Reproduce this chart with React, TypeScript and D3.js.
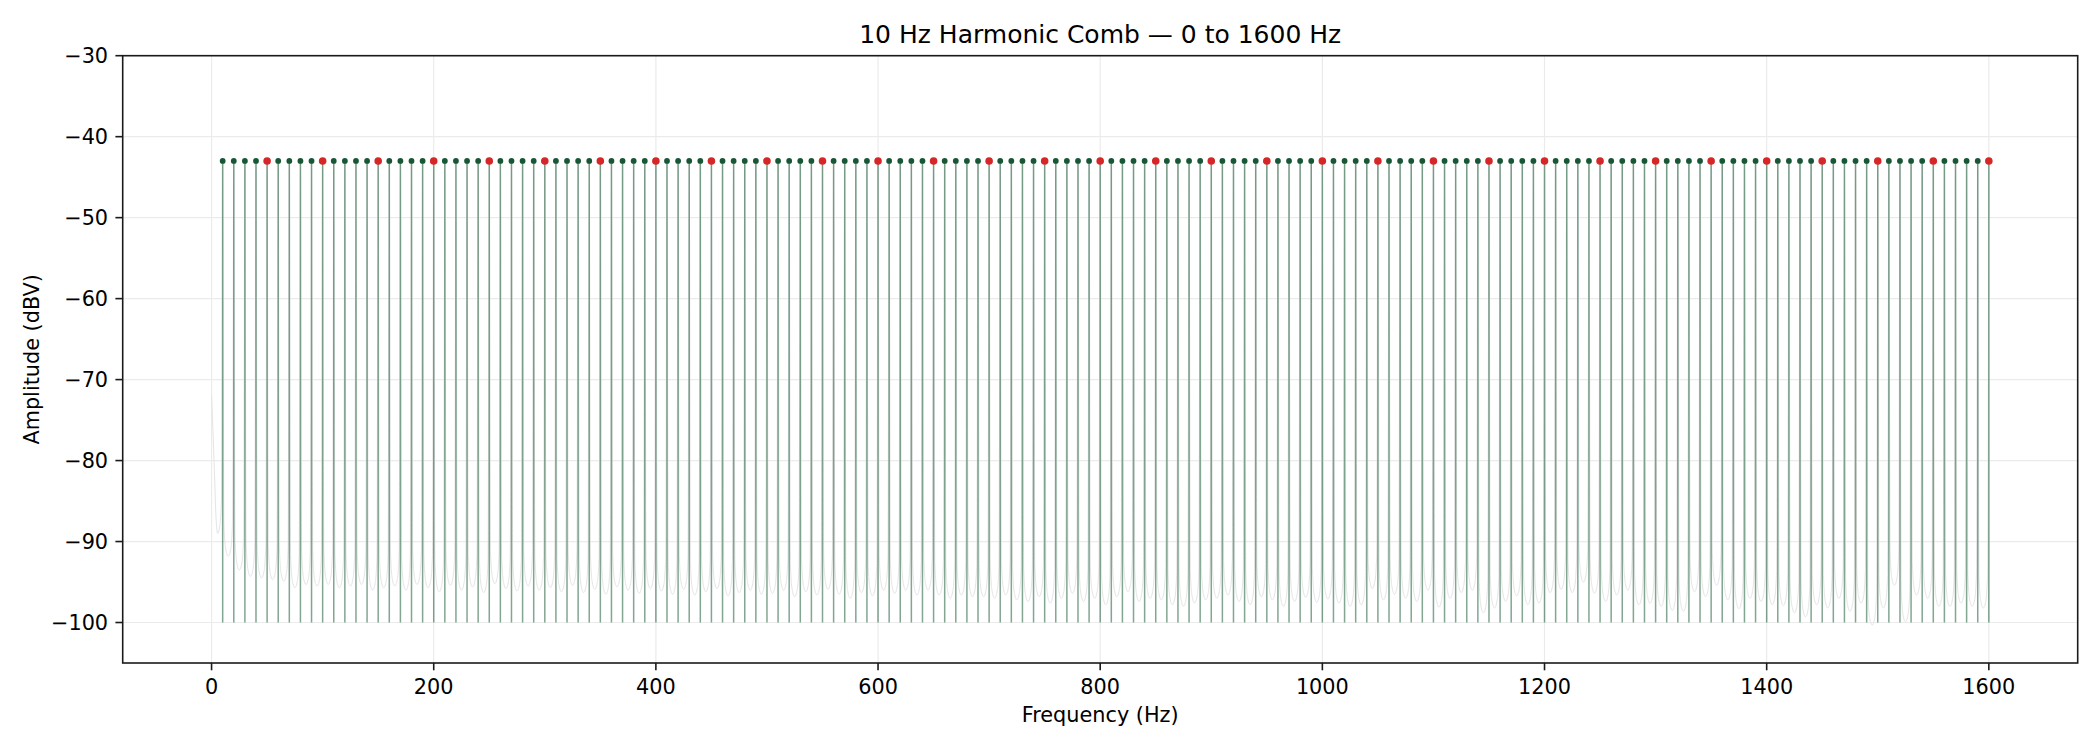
import React, { useRef, useEffect } from 'react';
import * as d3 from 'd3';

// harmonic comb: 10 Hz fundamental, 160 harmonics up to 1600 Hz
const fundamentalHz = 10;
const harmonicCount = 160;
const harmonicLevel = -43; // dBV at every harmonic peak
const stemFloor = -100; // stems start here
const highlightHz = 50; // every 50 Hz harmonic drawn in red

// faint FFT trace: DC value, then lowest point between each pair of harmonics (0-10, 10-20, ... 1590-1600 Hz)
const dcLevel = -72;
const noiseDips = [
  -89.0, -91.8, -93.5, -94.3, -94.5, -94.7, -94.9, -95.7, -95.3, -95.5,
  -95.3, -95.7, -95.5, -95.3, -96.0, -95.7, -95.5, -96.0, -95.3, -95.7,
  -96.2, -95.4, -96.0, -95.6, -96.3, -95.2, -95.8, -96.1, -95.5, -96.0,
  -95.7, -96.2, -95.4, -96.3, -95.9, -96.5, -95.6, -96.0, -96.4, -95.8,
  -96.1, -96.5, -95.9, -96.6, -96.2, -95.8, -96.7, -96.3, -96.0, -96.5,
  -96.4, -96.0, -96.8, -96.2, -96.6, -95.9, -96.5, -97.0, -96.3, -96.7,
  -96.0, -96.4, -96.0, -96.6, -96.0, -96.6, -97.0, -96.6, -96.8, -96.8,
  -97.0, -96.6, -97.2, -97.4, -96.8, -97.6, -97.0, -96.4, -97.4, -97.0,
  -97.8, -96.8, -96.2, -97.4, -97.0, -97.2, -97.8, -98.0, -97.6, -97.2,
  -97.0, -96.6, -97.4, -97.8, -96.8, -97.2, -98.0, -97.4, -96.9, -97.5,
  -97.1, -97.6, -98.0, -97.8, -95.8, -97.2, -96.5, -97.0, -97.4, -96.0,
  -98.1, -97.0, -96.3, -96.0, -98.8, -98.2, -97.4, -96.7, -97.8, -97.6,
  -96.3, -95.9, -96.3, -95.0, -96.4, -97.4, -96.6, -96.0, -97.8, -97.6,
  -98.0, -98.5, -98.6, -96.2, -96.8, -95.4, -97.2, -98.3, -97.0, -97.4,
  -97.8, -97.9, -98.8, -99.3, -97.8, -98.2, -97.0, -98.6, -97.6, -100.3,
  -98.2, -95.4, -99.9, -96.6, -97.0, -98.0, -98.0, -97.6, -98.0, -98.2,
];

const xTicks = [0, 200, 400, 600, 800, 1000, 1200, 1400, 1600];
const yTicks = [-100, -90, -80, -70, -60, -50, -40, -30];

const App = () => {
  const ref = useRef<SVGSVGElement>(null);

  useEffect(() => {
    document.body.style.margin = '0';
    document.body.style.overflow = 'hidden';

    const width = 2100;
    const height = 750;
    const left = 122.7;
    const right = 2077.7;
    const top = 55.7;
    const bottom = 663;
    const font = 'DejaVu Sans, sans-serif';

    const x = d3.scaleLinear().domain([-80, 1680]).range([left, right]);
    const y = d3.scaleLinear().domain([-105, -30]).range([bottom, top]);

    const svg = d3.select(ref.current);
    svg.selectAll('*').remove();
    svg.attr('width', width).attr('height', height);

    svg.append('rect').attr('width', width).attr('height', height).attr('fill', '#fff');

    // grid
    const grid = svg.append('g').attr('stroke', '#ebebeb').attr('stroke-width', 1.2);
    grid.selectAll('line.gx').data(xTicks).join('line')
      .attr('x1', d => x(d)).attr('x2', d => x(d)).attr('y1', top).attr('y2', bottom);
    grid.selectAll('line.gy').data(yTicks).join('line')
      .attr('x1', left).attr('x2', right).attr('y1', d => y(d)).attr('y2', d => y(d));

    const harmonics = Array.from({ length: harmonicCount }, (_, i) => ({
      f: (i + 1) * fundamentalHz,
      level: harmonicLevel,
    }));

    // faint FFT trace: steep lobes at each harmonic, shallow trough between them
    const trace: [number, number][] = [[0, dcLevel]];
    noiseDips.forEach((d, i) => {
      const f0 = i * fundamentalHz;
      const peak = harmonics[i].level;
      if (i === 0) {
        trace.push([f0 + 2.5, d + 8], [f0 + 4, d + 2], [f0 + 5.5, d]);
      } else {
        trace.push([f0 + 1.1, d + 4], [f0 + 2.8, d + 0.8], [f0 + 5, d]);
      }
      trace.push([f0 + 7.2, d + 0.8], [f0 + 8.9, d + 4], [f0 + 10, peak]);
    });
    svg.append('path')
      .attr('d', d3.line<[number, number]>().x(d => x(d[0])).y(d => y(d[1])).curve(d3.curveMonotoneX)(trace))
      .attr('fill', 'none')
      .attr('stroke', '#e4e4e4')
      .attr('stroke-width', 1);

    // stems
    svg.append('g')
      .selectAll('line')
      .data(harmonics)
      .join('line')
        .attr('x1', d => x(d.f)).attr('x2', d => x(d.f))
        .attr('y1', y(stemFloor)).attr('y2', d => y(d.level))
        .attr('stroke', '#1a5c38')
        .attr('stroke-opacity', 0.55)
        .attr('stroke-width', 1.5);

    // markers
    svg.append('g')
      .selectAll('circle')
      .data(harmonics.filter(d => d.f % highlightHz !== 0))
      .join('circle')
        .attr('cx', d => x(d.f)).attr('cy', d => y(d.level))
        .attr('r', 2.9)
        .attr('fill', '#185736');
    svg.append('g')
      .selectAll('circle')
      .data(harmonics.filter(d => d.f % highlightHz === 0))
      .join('circle')
        .attr('cx', d => x(d.f)).attr('cy', d => y(d.level))
        .attr('r', 3.8)
        .attr('fill', '#d62728');

    // frame
    svg.append('rect')
      .attr('x', left).attr('y', top)
      .attr('width', right - left).attr('height', bottom - top)
      .attr('fill', 'none').attr('stroke', '#1a1a1a').attr('stroke-width', 1.6);

    // x ticks
    const xt = svg.append('g').attr('font-family', font).attr('font-size', 20.8).attr('text-anchor', 'middle');
    xTicks.forEach(t => {
      xt.append('line').attr('x1', x(t)).attr('x2', x(t)).attr('y1', bottom).attr('y2', bottom + 7.3)
        .attr('stroke', '#1a1a1a').attr('stroke-width', 1.6);
      xt.append('text').attr('x', x(t)).attr('y', bottom + 30.5).text(t);
    });

    // y ticks
    const yt = svg.append('g').attr('font-family', font).attr('font-size', 20.8).attr('text-anchor', 'end');
    yTicks.forEach(t => {
      yt.append('line').attr('x1', left - 7.3).attr('x2', left).attr('y1', y(t)).attr('y2', y(t))
        .attr('stroke', '#1a1a1a').attr('stroke-width', 1.6);
      yt.append('text').attr('x', left - 14.6).attr('y', y(t)).attr('dy', '0.36em')
        .text(t < 0 ? `\u2212${Math.abs(t)}` : String(t));
    });

    // labels
    svg.append('text')
      .attr('x', (left + right) / 2).attr('y', 722)
      .attr('text-anchor', 'middle').attr('font-family', font).attr('font-size', 20.8)
      .text('Frequency (Hz)');
    svg.append('text')
      .attr('transform', `translate(38.5,${(top + bottom) / 2}) rotate(-90)`)
      .attr('text-anchor', 'middle').attr('font-family', font).attr('font-size', 20.8)
      .text('Amplitude (dBV)');
    svg.append('text')
      .attr('x', (left + right) / 2).attr('y', top - 12.5)
      .attr('text-anchor', 'middle').attr('font-family', font).attr('font-size', 25)
      .text('10 Hz Harmonic Comb \u2014 0 to 1600 Hz');
  }, []);

  return <svg ref={ref} style={{ display: 'block' }} />;
};

export default App;
